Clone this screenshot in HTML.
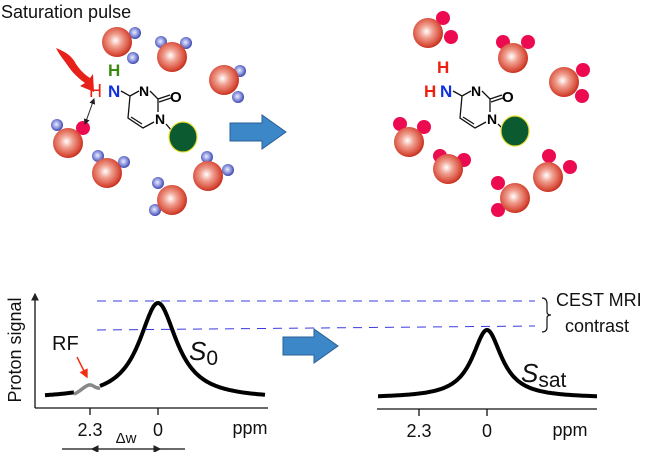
<!DOCTYPE html>
<html><head><meta charset="utf-8"><style>
html,body{margin:0;padding:0;background:#fff;}
svg{display:block;font-family:"Liberation Sans",Arial,sans-serif;}
</style></head><body>
<svg id="s" width="650" height="452" viewBox="0 0 650 452" xmlns="http://www.w3.org/2000/svg">
<defs>
<radialGradient id="rg" cx="45%" cy="45%" r="60%"><stop offset="0" stop-color="#fff"/><stop offset="0.35" stop-color="#f0a090"/><stop offset="0.8" stop-color="#d84a38"/><stop offset="1" stop-color="#b82010"/></radialGradient>
<radialGradient id="bg" cx="45%" cy="45%" r="60%"><stop offset="0" stop-color="#eef"/><stop offset="0.6" stop-color="#7c86d6"/><stop offset="1" stop-color="#2a36a0"/></radialGradient>
<marker id="ah" markerWidth="6" markerHeight="6" refX="5" refY="3" orient="auto"><path d="M0,0 L6,3 L0,6z" fill="#222"/></marker>
<marker id="ahs" markerWidth="6" markerHeight="6" refX="1" refY="3" orient="auto"><path d="M6,0 L0,3 L6,6z" fill="#222"/></marker>
<marker id="ar" markerWidth="6" markerHeight="6" refX="5" refY="3" orient="auto"><path d="M0,0 L6,3 L0,6z" fill="#f03010"/></marker>
</defs>
<text x="1" y="18" font-size="18" fill="#111">Saturation pulse</text>
<g id="waters"></g>
<!-- left molecule -->
<path d="M56,48 C66,52 72,56 76,64 C80,70 84,74 90,78 L93,74 L94,92 L80,86 L85,83 C78,78 72,72 68,66 C64,60 60,56 56,48z" fill="#e8201a"/>
<g stroke="#111" stroke-width="1.3" fill="none">
<path d="M121,91 L130,96 L139,91 M150,91 L158,99 L158,112 M158,99 L170,95 M159,102 L171,98 M154,122 L143,128 L128,118 L130,96 M131,117 L142,124 M166,124 L172,131"/>
<path d="M453,91 L462,96 L471,91 M482,91 L490,99 L490,112 M490,99 L502,95 M491,102 L503,98 M486,122 L475,128 L460,118 L462,96 M463,117 L474,124 M498,124 L504,130"/>
</g>
<line x1="94" y1="99" x2="85" y2="124" stroke="#222" stroke-width="1" marker-end="url(#ah)" marker-start="url(#ahs)"/>
<g font-size="14" font-weight="bold">
<text x="89" y="97" fill="#f02010" font-size="18" font-weight="normal">H</text>
<text x="108" y="97" fill="#1030e0" font-size="17">N</text>
<text x="108" y="76" fill="#3a8a10" font-size="17">H</text>
<text x="139" y="96" font-size="14">N</text>
<text x="170" y="102" font-size="15">O</text>
<text x="155" y="124" font-size="14">N</text>
<text x="424" y="97" fill="#f02010" font-size="17">H</text>
<text x="440" y="97" fill="#1030e0" font-size="17">N</text>
<text x="437" y="73" fill="#f02010" font-size="17">H</text>
<text x="471" y="96" font-size="14">N</text>
<text x="502" y="102" font-size="15">O</text>
<text x="487" y="124" font-size="14">N</text>
</g>
<ellipse cx="183" cy="137" rx="14" ry="15" fill="#0b5a30" stroke="#e8e030" stroke-width="1.2"/>
<ellipse cx="515" cy="131" rx="14" ry="15" fill="#0b5a30" stroke="#e8e030" stroke-width="1.2"/>
<!-- big arrows -->
<path d="M230,123 L262,123 L262,115 L286,132 L262,149 L262,141 L230,141z" fill="#3c87c8" stroke="#2a5f94" stroke-width="1"/>
<path d="M283,337 L314,337 L314,329 L338,346 L314,363 L314,355 L283,355z" fill="#3c87c8" stroke="#2a5f94" stroke-width="1"/>
<!-- plots -->
<g stroke="#111" stroke-width="1.3" fill="none">
<line x1="35" y1="408" x2="35" y2="294" marker-end="url(#ah)"/>
<line x1="35" y1="408" x2="268" y2="408"/>
<line x1="90" y1="408" x2="90" y2="415"/><line x1="158" y1="408" x2="158" y2="415"/>
<line x1="377" y1="409" x2="597" y2="409"/>
<line x1="419" y1="409" x2="419" y2="416"/><line x1="487" y1="409" x2="487" y2="416"/>
<line x1="62" y1="449" x2="92" y2="449"/><line x1="92" y1="449" x2="160" y2="449" marker-start="url(#ahs)" marker-end="url(#ah)"/><line x1="160" y1="449" x2="185" y2="449"/>
</g>
<path id="c1" fill="none" stroke="#000" stroke-width="4"/>
<path id="c2" fill="none" stroke="#000" stroke-width="4"/>
<path d="M74,394 C80,392 84,386 89,385 C93,384 95,389 100,388" fill="none" stroke="#888" stroke-width="3.5"/>
<line x1="77" y1="357" x2="87" y2="377" stroke="#f03010" stroke-width="1.5" marker-end="url(#ar)"/>
<g stroke="#3a3ae0" stroke-width="1" stroke-dasharray="9,7" fill="none">
<line x1="97" y1="301" x2="535" y2="301"/><line x1="97" y1="330" x2="535" y2="326"/>
</g>
<path d="M542,298 Q547,298 547,304 L547,312 Q547,315 551,315 Q547,315 547,318 L547,327 Q547,332 542,332" fill="none" stroke="#111" stroke-width="1.2"/>
<text x="556" y="306" font-size="18" fill="#111">CEST MRI</text>
<text x="565" y="332" font-size="18" fill="#111">contrast</text>
<text x="21" y="350" font-size="18" fill="#111" transform="rotate(-90 21 350)" text-anchor="middle">Proton signal</text>
<text x="52" y="350" font-size="20" fill="#111">RF</text>
<text x="189" y="360" font-size="26" font-style="italic" fill="#111">S<tspan font-size="21" font-style="normal" dy="5">0</tspan></text>
<text x="521" y="382" font-size="26" font-style="italic" fill="#111">S<tspan font-size="21" font-style="normal" dy="5">sat</tspan></text>
<g font-size="18" fill="#111" text-anchor="middle">
<text x="90" y="436">2.3</text><text x="158" y="436">0</text><text x="250" y="434">ppm</text>
<text x="126" y="443" font-size="15">Δw</text>
<text x="419" y="437">2.3</text><text x="487" y="437">0</text><text x="570" y="436">ppm</text>
</g>
</svg>
<script>
function lor(x0,A,w,base,xa,xb,skip){var d="";for(var x=xa;x<=xb;x+=1){if(skip&&x>skip[0]&&x<skip[1]){continue;}var y=base-A/(1+Math.pow((x-x0)/w,2));d+=(d==""||(skip&&x==skip[1])?"M":"L")+x+","+y.toFixed(1)+" ";}return d;}
document.getElementById("c1").setAttribute("d",lor(158,96,23,399,45,265,[74,100]));
document.getElementById("c2").setAttribute("d",lor(487,68,18,398,378,597));
var W=[[117,42,[[135,33],[133,58]],[]],[172,57,[[161,42],[186,43]],[]],[224,80,[[240,71],[238,97]],[]],[68,143,[[57,125]],[[83,128]]],[107,173,[[98,156],[124,162]],[]],[208,176,[[207,157],[228,170]],[]],[172,200,[[158,183],[155,210]],[]],
[428,33,[],[[443,18],[451,37]]],[513,58,[],[[503,42],[528,42]]],[564,82,[],[[583,70],[582,96]]],[409,142,[],[[400,124],[424,127]]],[448,169,[],[[440,156],[464,160]]],[548,177,[],[[549,156],[570,167]]],[515,198,[],[[498,183],[498,210]]]];
var s="";W.forEach(function(w){w[2].forEach(function(b){s+='<circle cx="'+b[0]+'" cy="'+b[1]+'" r="6" fill="url(#bg)"/>';});w[3].forEach(function(b){s+='<circle cx="'+b[0]+'" cy="'+b[1]+'" r="7" fill="#ec0a50"/>';});s+='<circle cx="'+w[0]+'" cy="'+w[1]+'" r="15" fill="url(#rg)"/>';});
document.getElementById("waters").innerHTML=s;
</script>
</body></html>
